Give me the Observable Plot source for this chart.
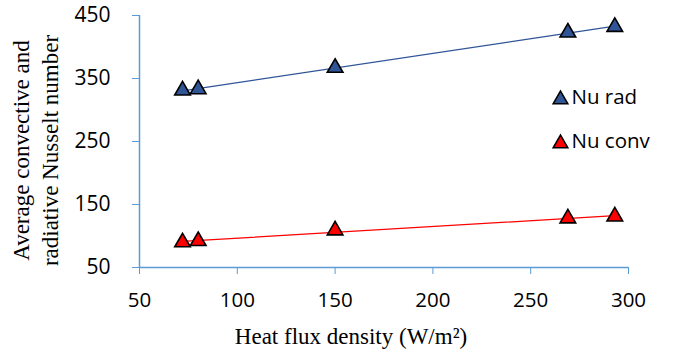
<!DOCTYPE html>
<html>
<head>
<meta charset="utf-8">
<script src="https://cdn.jsdelivr.net/npm/d3@7"></script>
<script src="https://cdn.jsdelivr.net/npm/@observablehq/plot@0.6"></script>
<style>
  html, body { margin: 0; padding: 0; background: #fff; }
  #chart svg { display: block; }
</style>
</head>
<body>
<div id="chart"></div>
<script>
// Data
const heatFlux = [72, 80, 150, 269, 293];          // W/m²
const nuRad    = [331, 333, 367, 423, 432];
const nuConv   = [90, 92, 109, 128, 131];
const seriesNames = ["Nu rad", "Nu conv"];
const xTicks = [50, 100, 150, 200, 250, 300];
const yTicks = [50, 150, 250, 350, 450];
const xTitle = "Heat flux density (W/m²)";
const yTitle = "Average convective and\nradiative Nusselt number";

const rows = [];
heatFlux.forEach((x, i) => rows.push({x, y: nuRad[i], s: "Nu rad"}));
heatFlux.forEach((x, i) => rows.push({x, y: nuConv[i], s: "Nu conv"}));

const fills = {"Nu rad": "#2f5597", "Nu conv": "#ff0000"};
const lineCols = {"Nu rad": "#2f5597", "Nu conv": "#ff0000"};
const axisCol = "#5b9bd5";
const sansFont = "'Open Sans', sans-serif";
const serifFont = "'Liberation Serif', 'Times New Roman', serif";

const legendMarks = seriesNames.flatMap((s, i) => [
  Plot.dot([s], {frameAnchor: "top-right", dx: -68, dy: 84 + i * 44, symbol: "triangle", r: 5.4,
    fill: fills[s], stroke: "#000", strokeWidth: 1.6}),
  Plot.text([s], {frameAnchor: "top-right", dx: -57, dy: 82 + i * 44, text: d => d, textAnchor: "start",
    lineAnchor: "middle", fontSize: 20.5, fill: "#000", fontFamily: sansFont})
]);

const chart = Plot.plot({
  width: 681,
  height: 354,
  marginLeft: 139,
  marginRight: 53,
  marginTop: 15,
  marginBottom: 87,
  style: {fontFamily: sansFont, fontSize: "20px", background: "#fff", color: "#000"},
  x: {domain: [50, 300], ticks: xTicks},
  y: {domain: [50, 450], ticks: yTicks},
  marks: [
    Plot.axisX({ticks: xTicks, tickSize: 7, tickPadding: 18, stroke: axisCol, fill: "#000", label: null, fontSize: 20.5}),
    Plot.axisY({ticks: yTicks, tickSize: 7, tickPadding: 22, stroke: axisCol, fill: "#000", label: null, fontSize: 21}),
    Plot.ruleY([50], {stroke: axisCol, strokeWidth: 1.5}),
    Plot.ruleX([50], {stroke: axisCol, strokeWidth: 1.5}),
    ...seriesNames.map(s =>
      Plot.linearRegressionY(rows.filter(d => d.s === s), {x: "x", y: "y", stroke: lineCols[s], strokeWidth: 1.2, ci: 0})
    ),
    Plot.dot(rows, {x: "x", y: "y", symbol: "triangle", r: 5.8, fill: d => fills[d.s], stroke: "#000", strokeWidth: 1.6}),
    ...legendMarks,
    Plot.text([xTitle], {frameAnchor: "bottom", dx: -33, dy: 76, text: d => d, textAnchor: "middle", lineAnchor: "bottom",
      fontFamily: serifFont, fontSize: 23, fill: "#000"}),
    Plot.text([yTitle], {frameAnchor: "left", dx: -105, dy: 9, rotate: -90, text: d => d, lineHeight: 1.22,
      textAnchor: "middle", lineAnchor: "middle", fontFamily: serifFont, fontSize: 23, fill: "#000"})
  ]
});
document.getElementById("chart").appendChild(chart);
</script>
</body>
</html>
